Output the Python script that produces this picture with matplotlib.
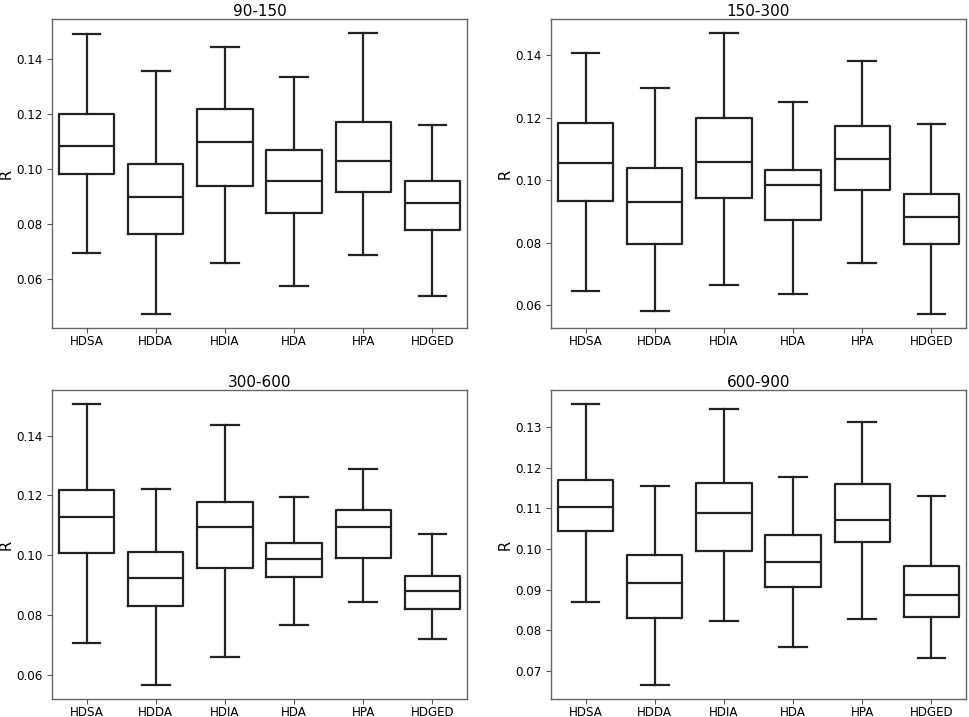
import matplotlib
matplotlib.use('Agg')
import matplotlib.pyplot as plt

methods = ["HDSA", "HDDA", "HDIA", "HDA", "HPA", "HDGED"]
titles = ["90-150", "150-300", "300-600", "600-900"]

# whisker low, Q1, median, Q3, whisker high for each method
low_90 = [0.0696, 0.0473, 0.0658, 0.0576, 0.0686, 0.0539]
q1_90 = [0.0982, 0.0764, 0.0936, 0.0841, 0.0916, 0.0778]
med_90 = [0.1083, 0.0899, 0.1098, 0.0957, 0.1027, 0.0877]
q3_90 = [0.1200, 0.1018, 0.1216, 0.1069, 0.1169, 0.0954]
high_90 = [0.1490, 0.1355, 0.1442, 0.1335, 0.1493, 0.1160]

low_150 = [0.0646, 0.0580, 0.0664, 0.0635, 0.0734, 0.0572]
q1_150 = [0.0933, 0.0795, 0.0944, 0.0871, 0.0969, 0.0795]
med_150 = [0.1055, 0.0929, 0.1059, 0.0984, 0.1067, 0.0883]
q3_150 = [0.1182, 0.1037, 0.1197, 0.1031, 0.1174, 0.0956]
high_150 = [0.1406, 0.1294, 0.1470, 0.1250, 0.1382, 0.1178]

low_300 = [0.0706, 0.0566, 0.0661, 0.0767, 0.0844, 0.0721]
q1_300 = [0.1008, 0.0829, 0.0957, 0.0926, 0.0992, 0.0820]
med_300 = [0.1129, 0.0923, 0.1094, 0.0986, 0.1093, 0.0879]
q3_300 = [0.1218, 0.1012, 0.1179, 0.1041, 0.1150, 0.0929]
high_300 = [0.1506, 0.1222, 0.1437, 0.1196, 0.1289, 0.1070]

low_600 = [0.0869, 0.0666, 0.0823, 0.0760, 0.0829, 0.0732]
q1_600 = [0.1045, 0.0830, 0.0995, 0.0907, 0.1016, 0.0832]
med_600 = [0.1103, 0.0917, 0.1089, 0.0967, 0.1071, 0.0886]
q3_600 = [0.1169, 0.0984, 0.1162, 0.1034, 0.1159, 0.0957]
high_600 = [0.1356, 0.1155, 0.1344, 0.1177, 0.1311, 0.1131]

panels = [
    (low_90, q1_90, med_90, q3_90, high_90),
    (low_150, q1_150, med_150, q3_150, high_150),
    (low_300, q1_300, med_300, q3_300, high_300),
    (low_600, q1_600, med_600, q3_600, high_600),
]

W, H = 969, 717
fig = plt.figure(figsize=(W / 100, H / 100), dpi=100)

# axes boxes in pixels: left, top, right, bottom
boxes = [
    (52, 19, 467, 328),
    (551, 19, 966, 328),
    (52, 390, 467, 699),
    (551, 390, 966, 699),
]

line_col = "#222222"
for k in range(4):
    l, t, r, b = boxes[k]
    ax = fig.add_axes([l / W, 1 - b / H, (r - l) / W, (b - t) / H])
    lo, q1, med, q3, hi = panels[k]
    stats = []
    for i in range(len(methods)):
        stats.append(dict(whislo=lo[i], q1=q1[i], med=med[i], q3=q3[i],
                          whishi=hi[i], fliers=[], label=methods[i]))
    props = dict(color=line_col, linewidth=1.6)
    ax.bxp(stats, positions=range(len(methods)), widths=0.8, capwidths=0.4,
           showfliers=False, boxprops=props, medianprops=props,
           whiskerprops=props, capprops=props)
    ax.set_xlim(-0.5, len(methods) - 0.5)
    ax.set_title(titles[k], fontsize=11, pad=2.5)
    ax.set_ylabel("R", fontsize=10.5)
    ax.yaxis.set_label_coords(-0.092, 0.5)
    ax.tick_params(labelsize=8.6, color="#555555")
    ax.tick_params(axis='x', pad=1.5)
    for s in ax.spines.values():
        s.set_color("#666666")
        s.set_linewidth(1.0)

plt.savefig("out.png", dpi=100)
